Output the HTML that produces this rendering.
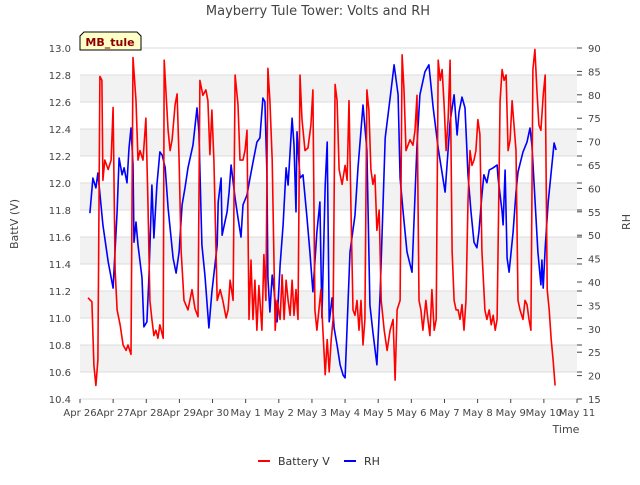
<!DOCTYPE html>
<html><head><meta charset="utf-8">
<style>
body{margin:0;background:#fff;font-family:"Liberation Sans","DejaVu Sans",sans-serif;}
svg text{font-family:"DejaVu Sans","Liberation Sans",sans-serif;}
</style></head>
<body>
<svg id="chart" width="640" height="480" viewBox="0 0 640 480" xmlns="http://www.w3.org/2000/svg">
<rect width="640" height="480" fill="#fff"/>
<g id="bands"></g><g id="grid"></g>
<text x="318" y="15" text-anchor="middle" font-size="13" fill="#444">Mayberry Tule Tower: Volts and RH</text>
<text transform="translate(18,224) rotate(-90)" text-anchor="middle" font-size="11" fill="#444">BattV (V)</text>
<text transform="translate(630,222) rotate(-90)" text-anchor="middle" font-size="11" fill="#444">RH</text>
<text x="566" y="433" text-anchor="middle" font-size="11" fill="#444">Time</text>
<g id="axes"></g>
<g id="series"></g>
<g>
<path d="M80,50 L80,36 L84,32 L137,32 L141,36 L141,50 Z" fill="#ffffc8" stroke="#000" stroke-width="1"/>
<text x="110" y="46" text-anchor="middle" font-size="11" font-weight="bold" fill="#8b0000">MB_tule</text>
</g>
<g>
<g><line x1="258" y1="461" x2="270" y2="461" stroke="#f00" stroke-width="2"/><text x="278" y="465" font-size="11" fill="#333">Battery V</text></g>
<g><line x1="344" y1="461" x2="356" y2="461" stroke="#00f" stroke-width="2"/><text x="364" y="465" font-size="11" fill="#333">RH</text></g>
</g>
</svg>
<script>
const xTickLabels=["Apr 26","Apr 27","Apr 28","Apr 29","Apr 30","May 1","May 2","May 3","May 4","May 5","May 6","May 7","May 8","May 9","May 10","May 11"];
const yTicks=[10.4,10.6,10.8,11.0,11.2,11.4,11.6,11.8,12.0,12.2,12.4,12.6,12.8,13.0];
const y2Ticks=[15,20,25,30,35,40,45,50,55,60,65,70,75,80,85,90];
const battTimes=[0.24,0.36,0.42,0.48,0.54,0.60,0.66,0.69,0.75,0.85,0.94,1.00,1.06,1.12,1.21,1.30,1.39,1.45,1.54,1.60,1.69,1.75,1.81,1.90,1.99,2.05,2.11,2.17,2.23,2.29,2.35,2.41,2.51,2.54,2.66,2.72,2.78,2.87,2.93,2.99,3.05,3.14,3.26,3.38,3.47,3.56,3.62,3.71,3.80,3.86,3.92,3.98,4.04,4.14,4.23,4.32,4.41,4.47,4.53,4.62,4.68,4.77,4.83,4.92,4.98,5.04,5.10,5.16,5.22,5.28,5.34,5.40,5.49,5.55,5.61,5.67,5.73,5.80,5.89,5.95,6.04,6.10,6.16,6.22,6.28,6.34,6.40,6.46,6.52,6.58,6.64,6.70,6.79,6.88,6.97,7.03,7.09,7.15,7.21,7.27,7.33,7.40,7.46,7.52,7.58,7.64,7.70,7.76,7.82,7.91,8.00,8.06,8.12,8.18,8.24,8.30,8.36,8.42,8.48,8.54,8.60,8.66,8.72,8.78,8.84,8.90,8.96,9.03,9.09,9.18,9.27,9.36,9.45,9.51,9.57,9.66,9.72,9.78,9.84,9.90,9.96,10.05,10.11,10.17,10.23,10.29,10.35,10.44,10.50,10.56,10.62,10.69,10.75,10.81,10.87,10.93,10.99,11.05,11.11,11.17,11.23,11.29,11.35,11.41,11.47,11.53,11.59,11.65,11.71,11.77,11.83,11.89,11.95,12.01,12.07,12.13,12.22,12.28,12.35,12.41,12.47,12.53,12.59,12.68,12.74,12.80,12.86,12.92,12.98,13.04,13.10,13.16,13.22,13.28,13.37,13.43,13.49,13.55,13.61,13.67,13.73,13.79,13.85,13.91,13.98,14.04,14.10,14.16,14.22,14.28,14.34];
const battValues=[11.15,11.12,10.65,10.50,10.69,12.79,12.76,12.02,12.17,12.10,12.17,12.56,11.36,11.06,10.95,10.80,10.76,10.80,10.73,12.93,12.61,12.17,12.24,12.17,12.48,11.87,11.13,10.99,10.87,10.91,10.85,10.95,10.85,12.91,12.39,12.24,12.32,12.58,12.66,12.17,11.50,11.13,11.06,11.21,11.07,11.01,12.76,12.65,12.69,12.61,12.21,12.54,12.17,11.13,11.21,11.12,11.00,11.06,11.28,11.13,12.80,12.58,12.17,12.17,12.24,12.39,10.99,11.43,10.99,11.28,10.91,11.24,10.91,11.47,11.13,12.85,12.61,12.17,10.91,11.13,10.99,11.32,10.99,11.28,11.13,11.02,11.28,11.02,11.21,10.99,12.80,12.47,12.24,12.26,12.43,12.69,11.06,10.91,11.06,11.21,10.91,10.58,10.84,10.60,10.84,10.99,12.73,12.61,12.10,11.99,12.13,12.02,12.61,11.80,11.06,11.02,11.13,10.91,11.13,10.80,10.99,12.69,12.54,12.10,11.99,12.06,11.65,11.80,11.13,10.91,10.76,10.91,10.99,10.54,11.06,11.13,12.95,12.69,12.24,12.28,12.32,12.28,12.39,12.65,11.13,11.06,10.91,11.13,10.99,10.87,11.21,10.91,10.99,12.91,12.76,12.84,12.58,12.24,12.47,12.91,11.50,11.13,11.06,11.06,10.99,11.10,10.91,11.13,11.87,12.24,12.13,12.17,12.24,12.47,12.36,11.50,11.06,10.99,11.06,10.95,11.02,10.91,10.99,12.61,12.84,12.76,12.80,12.24,12.32,12.61,12.43,12.24,11.13,11.06,10.99,11.13,11.10,10.99,10.91,12.84,12.99,12.69,12.43,12.39,12.65,12.80,11.21,11.06,10.84,10.69,10.50];
const rhTimes=[0.30,0.39,0.48,0.54,0.69,0.85,1.00,1.12,1.18,1.27,1.33,1.42,1.48,1.54,1.60,1.63,1.69,1.75,1.87,1.93,2.02,2.08,2.17,2.23,2.32,2.41,2.48,2.57,2.66,2.81,2.90,2.99,3.08,3.17,3.26,3.41,3.53,3.59,3.68,3.77,3.89,3.98,4.14,4.17,4.26,4.29,4.44,4.50,4.56,4.68,4.77,4.86,4.92,5.04,5.13,5.22,5.34,5.43,5.52,5.58,5.64,5.67,5.73,5.80,5.86,5.95,6.04,6.13,6.22,6.28,6.40,6.46,6.52,6.55,6.64,6.73,6.85,6.94,7.03,7.15,7.24,7.30,7.40,7.46,7.52,7.61,7.67,7.76,7.85,7.94,8.00,8.15,8.30,8.39,8.54,8.66,8.75,8.84,8.96,9.06,9.21,9.36,9.48,9.60,9.66,9.75,9.87,10.02,10.17,10.26,10.41,10.53,10.66,10.81,11.02,11.17,11.29,11.38,11.44,11.53,11.62,11.71,11.80,11.89,11.98,12.04,12.13,12.19,12.28,12.35,12.47,12.59,12.62,12.74,12.77,12.83,12.89,12.95,13.07,13.16,13.22,13.37,13.49,13.58,13.64,13.73,13.82,13.91,13.94,13.98,14.04,14.13,14.22,14.31,14.37];
const rhValues=[54.7,62.2,60.1,63.3,52.2,44.3,38.7,55.0,66.5,62.9,64.4,61.2,68.6,72.9,65.0,48.5,52.8,47.9,40.9,30.4,31.5,40.9,60.7,49.4,60.7,67.8,67.1,64.4,55.8,45.1,41.9,46.4,56.5,60.1,64.4,69.3,77.2,72.1,47.9,41.5,30.2,37.9,47.9,57.1,62.2,50.0,55.0,59.2,65.0,57.9,53.7,49.6,56.5,58.6,62.2,65.6,69.9,70.8,79.3,78.5,63.5,40.9,33.6,41.5,37.9,31.5,43.6,52.2,64.4,60.7,75.0,69.3,55.0,72.1,62.2,62.9,53.7,46.4,37.9,50.7,57.1,32.3,60.7,69.9,31.5,36.6,30.2,26.5,22.3,20.1,19.5,46.4,54.3,64.4,77.8,68.2,35.1,29.3,22.3,37.9,70.8,79.3,86.4,80.0,62.2,55.0,46.4,42.1,69.3,80.0,84.9,86.4,77.2,68.6,59.2,74.2,80.0,71.4,76.3,79.5,77.2,62.9,55.0,48.5,47.3,50.7,58.6,62.9,61.2,63.9,64.4,65.0,62.2,55.0,52.2,63.9,45.1,42.1,50.7,59.2,63.5,67.8,69.9,72.9,69.3,57.9,46.4,39.4,44.7,38.7,47.3,57.1,63.5,69.7,68.2];

const NS="http://www.w3.org/2000/svg";
const L=80,R=577,T=48,B=399;
const xS=d=>L+(R-L)*d/15;
const yS=v=>B-(B-T)*(v-10.4)/2.6;
const y2S=v=>B-(B-T)*(v-15)/75;
function mk(tag,attrs,parent){const e=document.createElementNS(NS,tag);for(const k in attrs)e.setAttribute(k,attrs[k]);parent.appendChild(e);return e;}
const bands=document.getElementById('bands'),grid=document.getElementById('grid'),axes=document.getElementById('axes'),series=document.getElementById('series');
for(let i=0;i<yTicks.length-1;i++){
  if(i%2===1){const r=mk('rect',{x:L,y:yS(yTicks[i+1]),width:R-L,height:yS(yTicks[i])-yS(yTicks[i+1]),fill:'#f2f2f2'},bands);
  
  }
}
yTicks.forEach(v=>{
  const g=mk('line',{x1:L,x2:R,y1:yS(v),y2:yS(v),stroke:'#dcdcdc','stroke-width':1},grid);
  
  
  const t=mk('text',{x:L-9,y:yS(v)+4,'text-anchor':'end','font-size':10,fill:'#444'},axes);
  t.textContent=v.toFixed(1);
  
  
});
y2Ticks.forEach(v=>{
  mk('line',{x1:R,x2:R+5,y1:y2S(v),y2:y2S(v),stroke:'#444'},axes);
  const t=mk('text',{x:R+11,y:y2S(v)+4,'text-anchor':'start','font-size':10,fill:'#444'},axes);
  t.textContent=v;
  
  
});
yTicks.forEach(v=>{mk('line',{x1:R,x2:R+5,y1:yS(v),y2:yS(v),stroke:'#444'},axes);});
xTickLabels.forEach((lab,i)=>{
  mk('line',{x1:xS(i),x2:xS(i),y1:B,y2:B+4,stroke:'#444'},axes);
  const t=mk('text',{x:xS(i),y:B+17,'text-anchor':'middle','font-size':10,fill:'#444'},axes);
  t.textContent=lab;
  
  
});
const n=Math.min(battTimes.length,battValues.length);
let d='';for(let i=0;i<n;i++)d+=(i?'L':'M')+xS(battTimes[i]).toFixed(1)+','+yS(battValues[i]).toFixed(1);
const m=Math.min(rhTimes.length,rhValues.length);
let d2='';for(let i=0;i<m;i++)d2+=(i?'L':'M')+xS(rhTimes[i]).toFixed(1)+','+y2S(rhValues[i]).toFixed(1);
const p2=mk('path',{d:d2,fill:'none',stroke:'#00f','stroke-width':1.6,'stroke-linejoin':'round'},series);


const p1=mk('path',{d:d,fill:'none',stroke:'#f00','stroke-width':1.6,'stroke-linejoin':'round'},series);


</script>
</body></html>
